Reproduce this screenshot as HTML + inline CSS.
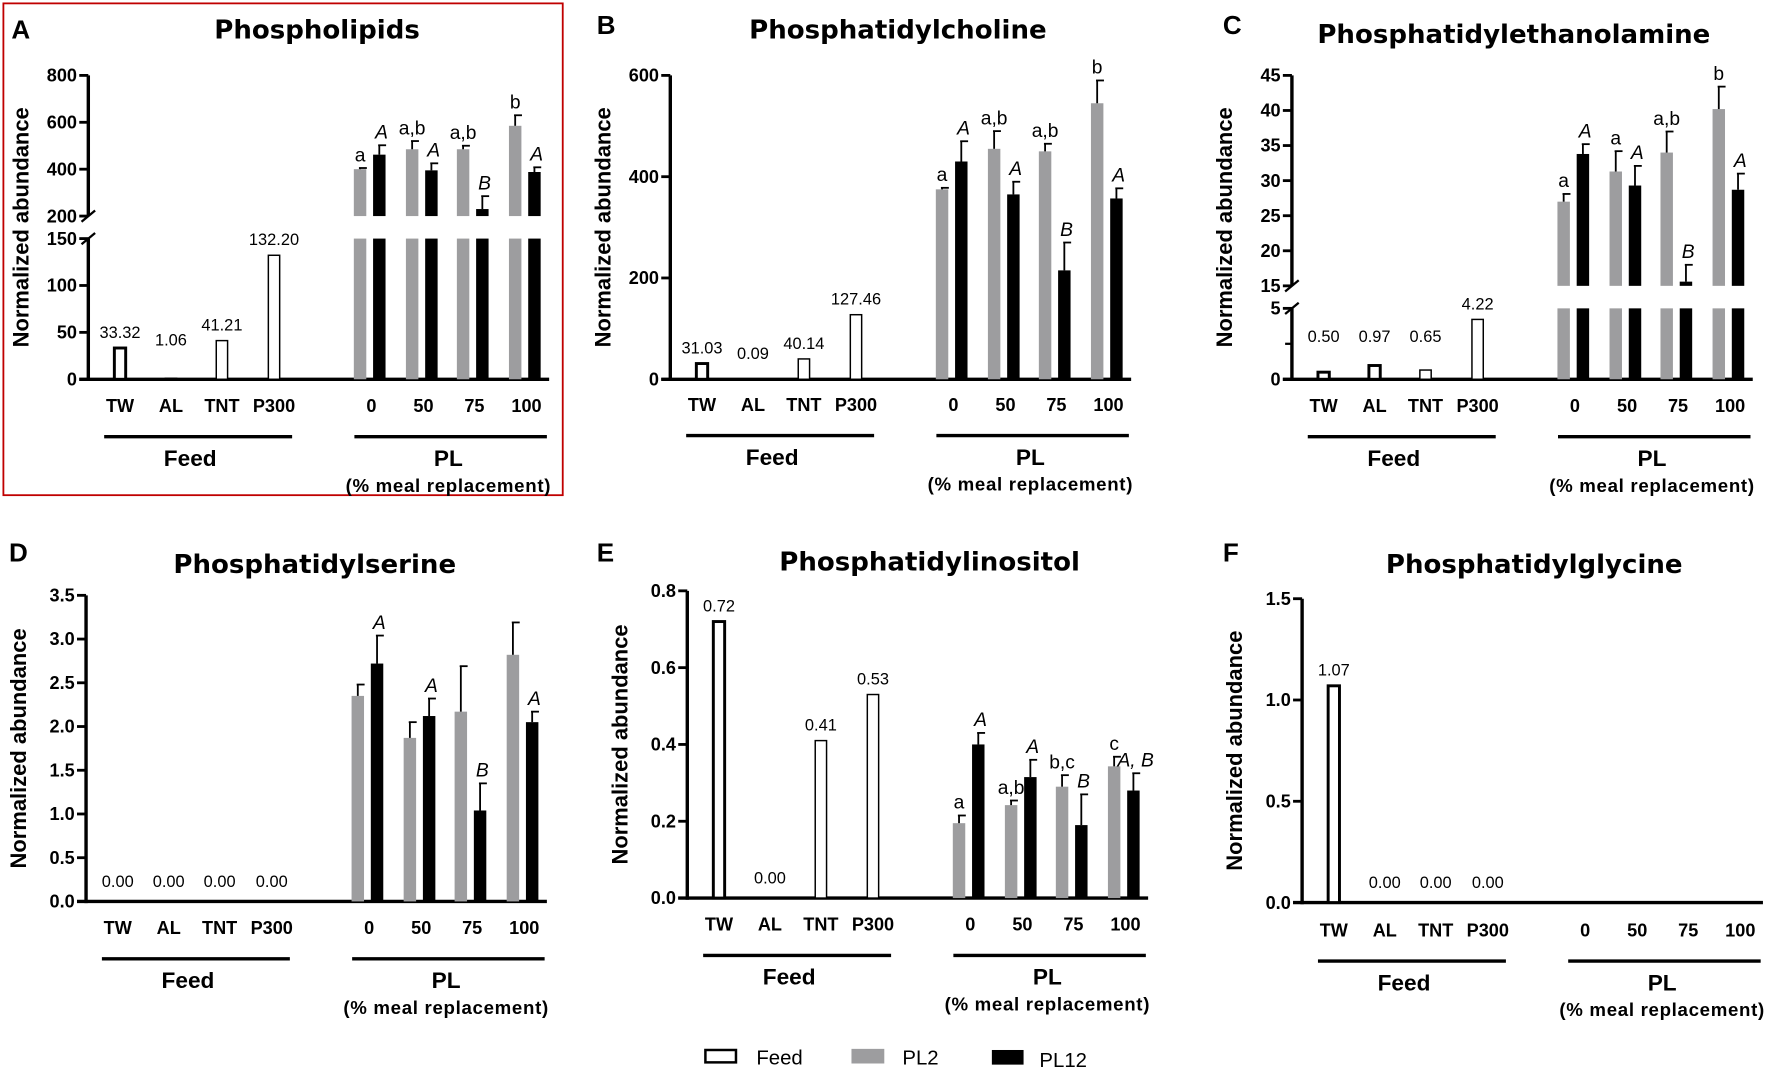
<!DOCTYPE html>
<html><head><meta charset="utf-8">
<style>
html,body{margin:0;padding:0;background:#fff;}
svg{display:block;font-family:"Liberation Sans",Arial,sans-serif;}
</style></head>
<body>
<svg id="fig" width="1772" height="1077" viewBox="0 0 1565 957" preserveAspectRatio="none" xmlns="http://www.w3.org/2000/svg">
<rect x="3" y="3" width="494" height="437" fill="none" stroke="#c00000" stroke-width="1.6"/>
<g>
 <rect x="623" y="933" width="27" height="11" fill="#fff" stroke="#000" stroke-width="2.2"/>
 <text x="668" y="946" font-size="18">Feed</text>
 <rect x="752" y="932" width="29" height="13" fill="#9d9d9f"/>
 <text x="797" y="946" font-size="18">PL2</text>
 <rect x="876" y="933" width="28" height="13" fill="#000"/>
 <text x="918" y="948" font-size="18">PL12</text>
</g>
</svg>
<script>
// ---- data ----
const feedCats = ["TW","AL","TNT","P300"];
const plCats = ["0","50","75","100"];

const aFeed = [33.32, 1.06, 41.21, 132.20];
const aPL2 = [400, 485, 485, 585];
const aPL2err = [5, 35, 15, 45];
const aPL12 = [462, 395, 230, 388];
const aPL12err = [40, 30, 55, 20];
const aPL2sig = ["a","a,b","a,b","b"];
const aPL12sig = ["A","A","B","A"];

const bFeed = [31.03, 0.09, 40.14, 127.46];
const bPL2 = [375, 455, 450, 545];
const bPL2err = [3, 35, 15, 45];
const bPL12 = [430, 365, 215, 357];
const bPL12err = [40, 25, 55, 20];
const bPL2sig = ["a","a,b","a,b","b"];
const bPL12sig = ["A","A","B","A"];

const cFeed = [0.50, 0.97, 0.65, 4.22];
const cPL2 = [27, 31.3, 34, 40.2];
const cPL2err = [1.1, 2.9, 3, 3.2];
const cPL12 = [33.8, 29.3, 15.6, 28.7];
const cPL12err = [1.4, 2.8, 2.4, 2.3];
const cPL2sig = ["a","a","a,b","b"];
const cPL12sig = ["A","A","B","A"];

const dFeed = [0, 0, 0, 0];
const dPL2 = [2.35, 1.87, 2.17, 2.82];
const dPL2err = [0.13, 0.18, 0.52, 0.37];
const dPL12 = [2.72, 2.12, 1.04, 2.05];
const dPL12err = [0.32, 0.2, 0.31, 0.12];
const dPL2sig = ["","","",""];
const dPL12sig = ["A","A","B","A"];

const eFeed = [0.72, 0.00, 0.41, 0.53];
const ePL2 = [0.195, 0.242, 0.29, 0.343];
const ePL2err = [0.02, 0.012, 0.03, 0.025];
const ePL12 = [0.40, 0.315, 0.19, 0.28];
const ePL12err = [0.03, 0.045, 0.08, 0.045];
const ePL2sig = ["a","a,b","b,c","c"];
const ePL12sig = ["A","A","B","A, B"];

const fFeed = [1.07, 0, 0, 0];

const aTicks = [0,50,100,150,200,400,600,800];
const bTicks = [0,200,400,600];
const cTicks = [0,5,15,20,25,30,35,40,45];
const dTicks = [0,0.5,1,1.5,2,2.5,3,3.5];
const eTicks = [0,0.2,0.4,0.6,0.8];
const fTicks = [0,0.5,1,1.5];

// ---- drawing ----
const NS = "http://www.w3.org/2000/svg";
const svg = document.getElementById("fig");
function mk(tag, attrs, parent, txt){
  const e = document.createElementNS(NS, tag);
  for (const k in attrs) e.setAttribute(k, attrs[k]);
  if (txt !== undefined) e.textContent = txt;
  parent.appendChild(e);
  return e;
}

function panel(p){
  const g = mk("g", {}, svg);
  
  
  const segs = p.segs;
  const zeroY = segs[0].y0;
  function yOf(v){
    for (let i=0;i<segs.length;i++){
      const s = segs[i];
      if (v <= s.v1 || i===segs.length-1){
        if (v < s.v0) return s.y0;
        return s.y0 + (v - s.v0)/(s.v1 - s.v0)*(s.y1 - s.y0);
      }
    }
  }
  const ox = p.ox, ax = ox - 28;
  const feedX = i => ox + [0,45,90,136][i];
  const plX = i => ox + [220,266,311,357][i];

  let t = mk("text", {x:p.lx, y:p.ly, "font-size":23, "font-weight":"bold"}, g, p.letter);
   
  t = mk("text", {x:p.tx, y:p.ty, "font-size":23, "font-weight":"bold", "text-anchor":"middle", "font-family":"'DejaVu Sans','Liberation Sans',sans-serif"}, g, p.title);
   
  t = mk("text", {x:0, y:0, "font-size":19.5, "font-weight":"bold", "text-anchor":"middle",
    transform:`translate(${ax-53},${(segs[0].y0+segs[segs.length-1].y1)/2}) rotate(-90)`}, g, "Normalized abundance");
   

  segs.forEach((s, i) => {
    const l = mk("line", {x1:ax, x2:ax, y1:s.y0 + (i===0?1.5:0), y2:s.y1, stroke:"#000", "stroke-width":3}, g);
     
    if (i>0){
      [segs[i-1].y1, s.y0].forEach(yy => {
        const b = mk("line", {x1:ax-6, y1:yy+5, x2:ax+6, y2:yy-5, stroke:"#000", "stroke-width":2}, g);
         
      });
    }
  });
  p.ticks.forEach(v => {
    const y = yOf(v);
    const l = mk("line", {x1:ax-8, x2:ax, y1:y, y2:y, stroke:"#000", "stroke-width":2.5}, g);
     
    const tt = mk("text", {x:ax-10, y:y+5.5, "font-size":16, "font-weight":"bold", "text-anchor":"end"}, g, p.fmt(v));
     
  });
  if (p.minor) p.minor.forEach(v => {
    const y = yOf(v);
    const l = mk("line", {x1:ax-6, x2:ax, y1:y, y2:y, stroke:"#000", "stroke-width":2}, g);
     
  });
  let xl = mk("line", {x1:ax-8, x2:ox+379, y1:zeroY, y2:zeroY, stroke:"#000", "stroke-width":3}, g);
   

  function bar(cx, w, v, fill, name){
    segs.forEach(s => {
      if (v > s.v0 || (s===segs[0] && v>0)){
        const top = yOf(Math.min(v, s.v1)), bot = s.y0;
        const r = mk("rect", {x:cx-w/2, y:top, width:w, height:Math.max(0, bot-top), fill:fill}, g);
         
      }
    });
  }
  function err(cx, v, e){
    const y1 = yOf(v), y2 = yOf(v+e);
    mk("line", {x1:cx, x2:cx, y1:y1, y2:y2, stroke:"#000", "stroke-width":1.6}, g);
    const c = mk("line", {x1:cx-1, x2:cx+6, y1:y2, y2:y2, stroke:"#000", "stroke-width":1.6}, g);
     
    return y2;
  }

  p.feed.forEach((v, i) => {
    const cx = feedX(i);
    if (v > 0){
      const top = yOf(v);
      const sw = (i===0 || (p.id==='c' && i===1)) ? 2.6 : 1.3;
      const r = mk("rect", {x:cx-5, y:top, width:10, height:zeroY-top, fill:"#fff", stroke:"#000", "stroke-width":sw}, g);
       
    }
    const ly = Math.min(yOf(v) - 9, zeroY - (p.labMin || 14));
    const lt = mk("text", {x:cx, y:ly, "font-size":14.5, "text-anchor":"middle"}, g, v.toFixed(2));
     
  });
  if (p.pl2){
    p.pl2.forEach((v, i) => {
      const cx = plX(i) - 8;
      bar(cx, 11, v, "#9d9d9f", 'pl2-bar-' + plCats[i]);
      const ty = err(cx, v, p.pl2err[i]);
      if (p.pl2sig[i]){
        const s = mk("text", {x:cx, y:ty-6, "font-size":17, "text-anchor":"middle"}, g, p.pl2sig[i]);
         
      }
    });
    p.pl12.forEach((v, i) => {
      const cx = plX(i) + 9;
      bar(cx, 11, v, "#000", 'pl12-bar-' + plCats[i]);
      const ty = err(cx, v, p.pl12err[i]);
      if (p.pl12sig[i]){
        const s = mk("text", {x:cx+2, y:ty-6, "font-size":17, "font-style":"italic", "text-anchor":"middle"}, g, p.pl12sig[i]);
         
      }
    });
  }
  const lbY = zeroY + p.dl;
  feedCats.forEach((c, i) => {
    const tt = mk("text", {x:feedX(i), y:lbY, "font-size":16, "font-weight":"bold", "text-anchor":"middle"}, g, c);
     
  });
  plCats.forEach((c, i) => {
    const tt = mk("text", {x:plX(i)+2, y:lbY, "font-size":16, "font-weight":"bold", "text-anchor":"middle"}, g, c);
     
  });
  const gy = zeroY + p.dl + 22;
  let gl = mk("line", {x1:ox-14, x2:ox+152, y1:gy, y2:gy, stroke:"#000", "stroke-width":3}, g);
   
  gl = mk("line", {x1:ox+207, x2:ox+377, y1:gy, y2:gy, stroke:"#000", "stroke-width":3}, g);
   
  let gt = mk("text", {x:ox+62, y:gy+26, "font-size":20, "font-weight":"bold", "text-anchor":"middle"}, g, "Feed");
   
  gt = mk("text", {x:ox+290, y:gy+26, "font-size":20, "font-weight":"bold", "text-anchor":"middle"}, g, "PL");
   
  gt = mk("text", {x:ox+290, y:gy+49, "font-size":16.5, "font-weight":"bold", "text-anchor":"middle", "letter-spacing":"0.6"}, g, "(% meal replacement)");
   
}

const int = v => String(v);
const one = v => v.toFixed(1);

panel({id:'a', letter:'A', lx:10, ly:34, title:'Phospholipids', tx:280, ty:34, ox:106,
  segs:[{v0:0,v1:150,y0:337,y1:212},{v0:200,v1:800,y0:192,y1:67}], ticks:aTicks, fmt:int,
  feed:aFeed, pl2:aPL2, pl2err:aPL2err, pl12:aPL12, pl12err:aPL12err, pl2sig:aPL2sig, pl12sig:aPL12sig, dl:29, labMin:30});
panel({id:'b', letter:'B', lx:527, ly:30, title:'Phosphatidylcholine', tx:793, ty:34, ox:620,
  segs:[{v0:0,v1:600,y0:337,y1:67}], ticks:bTicks, fmt:int,
  feed:bFeed, pl2:bPL2, pl2err:bPL2err, pl12:bPL12, pl12err:bPL12err, pl2sig:bPL2sig, pl12sig:bPL12sig, dl:28, labMin:18});
panel({id:'c', letter:'C', lx:1080, ly:30, title:'Phosphatidylethanolamine', tx:1337, ty:38, ox:1169,
  segs:[{v0:0,v1:5,y0:337,y1:274},{v0:15,v1:45,y0:254,y1:67}], ticks:cTicks, minor:[2.5], fmt:int,
  feed:cFeed, pl2:cPL2, pl2err:cPL2err, pl12:cPL12, pl12err:cPL12err, pl2sig:cPL2sig, pl12sig:cPL12sig, dl:29, labMin:33});
panel({id:'d', letter:'D', lx:8, ly:499, title:'Phosphatidylserine', tx:278, ty:509, ox:104,
  segs:[{v0:0,v1:3.5,y0:801,y1:529}], ticks:dTicks, fmt:one,
  feed:dFeed, pl2:dPL2, pl2err:dPL2err, pl12:dPL12, pl12err:dPL12err, pl2sig:dPL2sig, pl12sig:dPL12sig, dl:29, labMin:13});
panel({id:'e', letter:'E', lx:527, ly:499, title:'Phosphatidylinositol', tx:821, ty:507, ox:635,
  segs:[{v0:0,v1:0.8,y0:798,y1:525}], ticks:eTicks, fmt:one,
  feed:eFeed, pl2:ePL2, pl2err:ePL2err, pl12:ePL12, pl12err:ePL12err, pl2sig:ePL2sig, pl12sig:ePL12sig, dl:29, labMin:13});
panel({id:'f', letter:'F', lx:1080, ly:499, title:'Phosphatidylglycine', tx:1355, ty:509, ox:1178,
  segs:[{v0:0,v1:1.5,y0:802,y1:532}], ticks:fTicks, fmt:one,
  feed:fFeed, dl:30, labMin:13});
</script>
</body></html>
